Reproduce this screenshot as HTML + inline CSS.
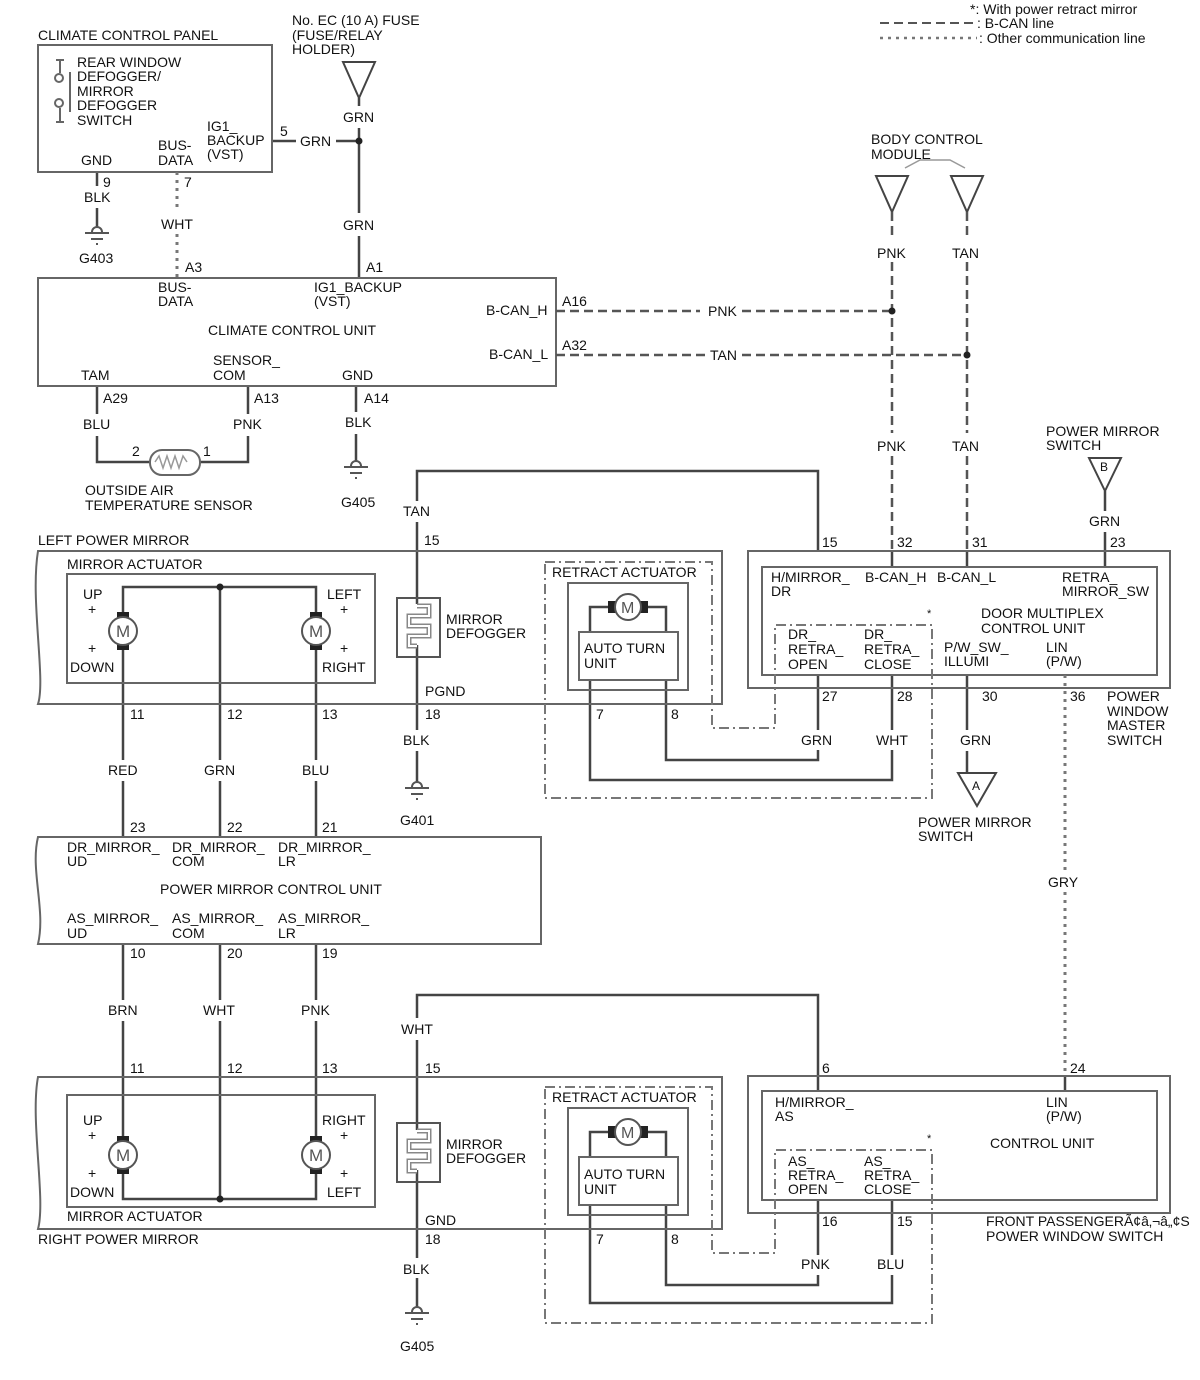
<!DOCTYPE html>
<html><head><meta charset="utf-8"><style>
html,body{margin:0;padding:0;background:#fff}
svg{display:block}
text{font-family:"Liberation Sans",Arial,sans-serif;font-size:14px;fill:#111}
</style></head><body>
<svg width="1200" height="1380" viewBox="0 0 1200 1380" xmlns="http://www.w3.org/2000/svg">
<defs>
<g id="motorV">
<rect x="-6" y="-19" width="12" height="8" fill="#222"/>
<rect x="-6" y="11" width="12" height="8" fill="#222"/>
<circle r="14" fill="#fff" stroke="#555" stroke-width="2"/>
<text x="-7" y="6" style="font-size:17px;fill:#555">M</text>
</g>
<g id="motorH">
<rect x="-20" y="-6" width="8" height="12" fill="#222"/>
<rect x="12" y="-6" width="8" height="12" fill="#222"/>
<circle r="13" fill="#fff" stroke="#555" stroke-width="2"/>
<text x="-7" y="6" style="font-size:16px;fill:#555">M</text>
</g>
<g id="gnd" stroke="#555" stroke-width="2" fill="none">
<path d="M-5,0 a5,5 0 0 1 10,0"/>
<line x1="-12" y1="1" x2="12" y2="1"/>
<line x1="-6" y1="7" x2="6" y2="7"/>
<line x1="-1" y1="12" x2="1" y2="12"/>
</g>
<g id="defog" fill="none" stroke="#555" stroke-width="2">
<rect x="-20" y="0" width="43" height="59"/>
<path d="M0,8 H12 V18 H-8 V28 H12 V38 H-8 V48 H0" stroke="#888" stroke-width="5"/>
<path d="M0,8 H12 V18 H-8 V28 H12 V38 H-8 V48 H0" stroke="#fff" stroke-width="2"/>
</g>
</defs>

<g fill="none" stroke="#444" stroke-width="2.5">
<polygon points="343,62 375,62 359,98" stroke-width="2"/>
<line x1="359" y1="98" x2="359" y2="106"/>
<line x1="359" y1="128" x2="359" y2="213"/>
<line x1="359" y1="236" x2="359" y2="278"/>
<line x1="272" y1="141" x2="296" y2="141"/>
<line x1="336" y1="141" x2="359" y2="141"/>
<line x1="97" y1="172" x2="97" y2="186"/>
<line x1="97" y1="208" x2="97" y2="228"/>
<line x1="97" y1="386" x2="97" y2="414"/>
<path d="M97,436 V462 H150"/>
<line x1="248" y1="386" x2="248" y2="414"/>
<path d="M248,436 V462 H200"/>
<line x1="356" y1="386" x2="356" y2="412"/>
<line x1="356" y1="434" x2="356" y2="462"/>
<path d="M417,501 V471 H818 V551"/>
<line x1="417" y1="522" x2="417" y2="604"/>
<line x1="417" y1="645" x2="417" y2="730"/>
<line x1="417" y1="751" x2="417" y2="783"/>
<path d="M123,615 V587 H316 V615"/>
<line x1="220" y1="587" x2="220" y2="760"/>
<line x1="123" y1="648" x2="123" y2="760"/>
<line x1="316" y1="648" x2="316" y2="760"/>
<line x1="123" y1="781" x2="123" y2="837"/>
<line x1="220" y1="781" x2="220" y2="837"/>
<line x1="316" y1="781" x2="316" y2="837"/>
<path d="M608,607 H590 V632"/>
<path d="M648,607 H666 V632"/>
<path d="M590,680 V780 H892 V750"/>
<path d="M666,680 V760 H818 V750"/>
<line x1="818" y1="675" x2="818" y2="730"/>
<line x1="892" y1="675" x2="892" y2="730"/>
<line x1="892" y1="551" x2="892" y2="567"/>
<line x1="967" y1="551" x2="967" y2="567"/>
<polygon points="1089,458 1121,458 1105,491" stroke-width="2"/>
<line x1="1105" y1="491" x2="1105" y2="511"/>
<line x1="1105" y1="532" x2="1105" y2="567"/>
<line x1="967" y1="675" x2="967" y2="730"/>
<line x1="967" y1="751" x2="967" y2="773"/>
<polygon points="958,773 996,773 977,806" stroke-width="2"/>
<line x1="123" y1="944" x2="123" y2="1000"/>
<line x1="220" y1="944" x2="220" y2="1000"/>
<line x1="316" y1="944" x2="316" y2="1000"/>
<line x1="123" y1="1021" x2="123" y2="1138"/>
<line x1="316" y1="1021" x2="316" y2="1138"/>
<line x1="220" y1="1021" x2="220" y2="1199"/>
<path d="M123,1172 V1199 H316 V1172"/>
<path d="M417,1018 V995 H818 V1091"/>
<line x1="417" y1="1040" x2="417" y2="1130"/>
<line x1="417" y1="1170" x2="417" y2="1258"/>
<line x1="417" y1="1278" x2="417" y2="1308"/>
<path d="M608,1132 H590 V1157"/>
<path d="M648,1132 H666 V1157"/>
<path d="M590,1205 V1303 H892 V1275"/>
<path d="M666,1205 V1285 H818 V1275"/>
<line x1="818" y1="1200" x2="818" y2="1255"/>
<line x1="892" y1="1200" x2="892" y2="1255"/>
<line x1="1065" y1="1076" x2="1065" y2="1091"/>
<polygon points="876,176 908,176 892,212" stroke-width="2"/>
<polygon points="951,176 983,176 967,212" stroke-width="2"/>
<path d="M905,168 l15,-8 h30 l15,8" stroke-width="1.5" stroke="#999"/>
</g>

<g fill="none" stroke="#666" stroke-width="2">
<rect x="38" y="45" width="234" height="127"/>
<rect x="38" y="278" width="518" height="108"/>
<rect x="67" y="574" width="308" height="109"/>
<rect x="568" y="583" width="120" height="107"/>
<rect x="579" y="632" width="99" height="48"/>
<rect x="748" y="551" width="422" height="137"/>
<rect x="762" y="567" width="395" height="108"/>
<rect x="67" y="1095" width="308" height="112"/>
<rect x="568" y="1108" width="120" height="107"/>
<rect x="579" y="1157" width="99" height="48"/>
<rect x="748" y="1076" width="422" height="137"/>
<rect x="762" y="1091" width="395" height="109"/>
<rect x="150" y="450" width="50" height="25" rx="12"/>
<path d="M155,462 l4,-6 4,12 4,-12 4,12 4,-12 4,12 4,-12 4,6" stroke="#999" stroke-width="1.5"/>
<path d="M38,551 H722 V704 H38 C46,680 30,600 38,551 Z"/>
<path d="M38,837 H541 V944 H38 C46,910 30,870 38,837 Z"/>
<path d="M38,1077 H722 V1229 H38 C46,1200 30,1120 38,1077 Z"/>
</g>
<g stroke="#666" stroke-width="2" fill="none">
<line x1="56" y1="60" x2="64" y2="60"/><line x1="60" y1="60" x2="60" y2="73"/>
<circle cx="59" cy="78" r="4"/><circle cx="59" cy="103" r="4"/>
<line x1="60" y1="108" x2="60" y2="122"/><line x1="56" y1="122" x2="64" y2="122"/>
<line x1="70" y1="72" x2="70" y2="112"/>
</g>
<use href="#gnd" x="97" y="232"/>
<use href="#gnd" x="356" y="466"/>
<use href="#gnd" x="417" y="787"/>
<use href="#gnd" x="417" y="1312"/>
<use href="#defog" x="417" y="598"/>
<use href="#defog" x="417" y="1123"/>
<use href="#motorV" x="123" y="631"/>
<use href="#motorV" x="316" y="631"/>
<use href="#motorV" x="123" y="1155"/>
<use href="#motorV" x="316" y="1155"/>
<use href="#motorH" x="628" y="607"/>
<use href="#motorH" x="628" y="1132"/>

<g fill="none" stroke="#555" stroke-width="2.5" stroke-dasharray="9,5">
<line x1="556" y1="311" x2="700" y2="311"/>
<line x1="742" y1="311" x2="892" y2="311"/>
<line x1="556" y1="355" x2="706" y2="355"/>
<line x1="742" y1="355" x2="967" y2="355"/>
<line x1="892" y1="212" x2="892" y2="240"/>
<line x1="892" y1="262" x2="892" y2="433"/>
<line x1="892" y1="456" x2="892" y2="551"/>
<line x1="967" y1="212" x2="967" y2="240"/>
<line x1="967" y1="262" x2="967" y2="433"/>
<line x1="967" y1="456" x2="967" y2="551"/>
<line x1="880" y1="23" x2="975" y2="23" stroke-width="2"/>
</g>
<g fill="none" stroke="#777" stroke-width="3" stroke-dasharray="3,5">
<line x1="177" y1="172" x2="177" y2="212"/>
<line x1="177" y1="234" x2="177" y2="278"/>
<line x1="1065" y1="675" x2="1065" y2="870"/>
<line x1="1065" y1="892" x2="1065" y2="1076"/>
<line x1="880" y1="38" x2="977" y2="38" stroke-width="2.5"/>
</g>
<g fill="none" stroke="#777" stroke-width="2" stroke-dasharray="10,4,2,4">
<path d="M545,562 H712 V728 H775 V625 H932 V798 H545 Z"/>
<path d="M545,1087 H712 V1253 H775 V1150 H932 V1323 H545 Z"/>
</g>
<g fill="#222">
<circle cx="359" cy="141" r="3.5"/>
<circle cx="892" cy="311" r="3.5"/>
<circle cx="967" cy="355" r="3.5"/>
<circle cx="220" cy="587" r="3.5"/>
<circle cx="220" cy="1199" r="3.5"/>
</g>

<text x="970" y="14">*: With power retract mirror</text>
<text x="977" y="28">: B-CAN line</text>
<text x="979" y="43">: Other communication line</text>

<text x="38" y="40">CLIMATE CONTROL PANEL</text>
<text x="292" y="25">No. EC (10 A) FUSE</text>
<text x="292" y="40">(FUSE/RELAY</text>
<text x="292" y="54">HOLDER)</text>
<text x="77" y="67">REAR WINDOW</text>
<text x="77" y="81">DEFOGGER/</text>
<text x="77" y="96">MIRROR</text>
<text x="77" y="110">DEFOGGER</text>
<text x="77" y="125">SWITCH</text>
<text x="207" y="131">IG1_</text>
<text x="207" y="145">BACKUP</text>
<text x="207" y="159">(VST)</text>
<text x="158" y="150">BUS-</text>
<text x="158" y="165">DATA</text>
<text x="81" y="165">GND</text>
<text x="280" y="136">5</text>
<text x="300" y="146">GRN</text>
<text x="343" y="122">GRN</text>
<text x="343" y="230">GRN</text>
<text x="103" y="187">9</text>
<text x="84" y="202">BLK</text>
<text x="184" y="187">7</text>
<text x="161" y="229">WHT</text>
<text x="79" y="263">G403</text>
<text x="185" y="272">A3</text>
<text x="366" y="272">A1</text>

<text x="158" y="292">BUS-</text>
<text x="158" y="306">DATA</text>
<text x="314" y="292">IG1_BACKUP</text>
<text x="314" y="306">(VST)</text>
<text x="208" y="335">CLIMATE CONTROL UNIT</text>
<text x="486" y="315">B-CAN_H</text>
<text x="489" y="359">B-CAN_L</text>
<text x="562" y="306">A16</text>
<text x="562" y="350">A32</text>
<text x="708" y="316">PNK</text>
<text x="710" y="360">TAN</text>
<text x="213" y="365">SENSOR_</text>
<text x="213" y="380">COM</text>
<text x="81" y="380">TAM</text>
<text x="342" y="380">GND</text>
<text x="103" y="403">A29</text>
<text x="254" y="403">A13</text>
<text x="364" y="403">A14</text>
<text x="83" y="429">BLU</text>
<text x="233" y="429">PNK</text>
<text x="345" y="427">BLK</text>
<text x="132" y="456">2</text>
<text x="203" y="456">1</text>
<text x="85" y="495">OUTSIDE AIR</text>
<text x="85" y="510">TEMPERATURE SENSOR</text>
<text x="341" y="507">G405</text>

<text x="871" y="144">BODY CONTROL</text>
<text x="871" y="159">MODULE</text>
<text x="877" y="258">PNK</text>
<text x="952" y="258">TAN</text>
<text x="877" y="451">PNK</text>
<text x="952" y="451">TAN</text>
<text x="1046" y="436">POWER MIRROR</text>
<text x="1046" y="450">SWITCH</text>
<text x="1100" y="471" style="font-size:12px">B</text>
<text x="1089" y="526">GRN</text>
<text x="403" y="516">TAN</text>
<text x="424" y="545">15</text>
<text x="822" y="547">15</text>
<text x="897" y="547">32</text>
<text x="972" y="547">31</text>
<text x="1110" y="547">23</text>

<text x="38" y="545">LEFT POWER MIRROR</text>
<text x="67" y="569">MIRROR ACTUATOR</text>
<text x="83" y="599">UP</text>
<text x="88" y="614">+</text>
<text x="88" y="653">+</text>
<text x="70" y="672">DOWN</text>
<text x="327" y="599">LEFT</text>
<text x="340" y="614">+</text>
<text x="340" y="653">+</text>
<text x="322" y="672">RIGHT</text>
<text x="446" y="624">MIRROR</text>
<text x="446" y="638">DEFOGGER</text>
<text x="425" y="696">PGND</text>
<text x="552" y="577">RETRACT ACTUATOR</text>
<text x="584" y="653">AUTO TURN</text>
<text x="584" y="668">UNIT</text>
<text x="130" y="719">11</text>
<text x="227" y="719">12</text>
<text x="322" y="719">13</text>
<text x="425" y="719">18</text>
<text x="596" y="719">7</text>
<text x="671" y="719">8</text>
<text x="403" y="745">BLK</text>
<text x="108" y="775">RED</text>
<text x="204" y="775">GRN</text>
<text x="302" y="775">BLU</text>
<text x="400" y="825">G401</text>

<text x="771" y="582">H/MIRROR_</text>
<text x="771" y="596">DR</text>
<text x="865" y="582">B-CAN_H</text>
<text x="937" y="582">B-CAN_L</text>
<text x="1062" y="582">RETRA_</text>
<text x="1062" y="596">MIRROR_SW</text>
<text x="981" y="618">DOOR MULTIPLEX</text>
<text x="981" y="633">CONTROL UNIT</text>
<text x="927" y="617" style="font-size:11px">*</text>
<text x="788" y="639">DR_</text>
<text x="788" y="654">RETRA_</text>
<text x="788" y="669">OPEN</text>
<text x="864" y="639">DR_</text>
<text x="864" y="654">RETRA_</text>
<text x="864" y="669">CLOSE</text>
<text x="944" y="652">P/W_SW_</text>
<text x="944" y="666">ILLUMI</text>
<text x="1046" y="652">LIN</text>
<text x="1046" y="666">(P/W)</text>
<text x="822" y="701">27</text>
<text x="897" y="701">28</text>
<text x="982" y="701">30</text>
<text x="1070" y="701">36</text>
<text x="1107" y="701">POWER</text>
<text x="1107" y="716">WINDOW</text>
<text x="1107" y="730">MASTER</text>
<text x="1107" y="745">SWITCH</text>
<text x="801" y="745">GRN</text>
<text x="876" y="745">WHT</text>
<text x="960" y="745">GRN</text>
<text x="972" y="790" style="font-size:12px">A</text>
<text x="918" y="827">POWER MIRROR</text>
<text x="918" y="841">SWITCH</text>
<text x="1048" y="887">GRY</text>

<text x="67" y="852">DR_MIRROR_</text>
<text x="67" y="866">UD</text>
<text x="172" y="852">DR_MIRROR_</text>
<text x="172" y="866">COM</text>
<text x="278" y="852">DR_MIRROR_</text>
<text x="278" y="866">LR</text>
<text x="160" y="894">POWER MIRROR CONTROL UNIT</text>
<text x="67" y="923">AS_MIRROR_</text>
<text x="67" y="938">UD</text>
<text x="172" y="923">AS_MIRROR_</text>
<text x="172" y="938">COM</text>
<text x="278" y="923">AS_MIRROR_</text>
<text x="278" y="938">LR</text>
<text x="130" y="832">23</text>
<text x="227" y="832">22</text>
<text x="322" y="832">21</text>
<text x="130" y="958">10</text>
<text x="227" y="958">20</text>
<text x="322" y="958">19</text>
<text x="108" y="1015">BRN</text>
<text x="203" y="1015">WHT</text>
<text x="301" y="1015">PNK</text>
<text x="401" y="1034">WHT</text>
<text x="130" y="1073">11</text>
<text x="227" y="1073">12</text>
<text x="322" y="1073">13</text>
<text x="425" y="1073">15</text>
<text x="822" y="1073">6</text>
<text x="1070" y="1073">24</text>

<text x="83" y="1125">UP</text>
<text x="88" y="1140">+</text>
<text x="88" y="1178">+</text>
<text x="70" y="1197">DOWN</text>
<text x="322" y="1125">RIGHT</text>
<text x="340" y="1140">+</text>
<text x="340" y="1178">+</text>
<text x="327" y="1197">LEFT</text>
<text x="67" y="1221">MIRROR ACTUATOR</text>
<text x="38" y="1244">RIGHT POWER MIRROR</text>
<text x="446" y="1149">MIRROR</text>
<text x="446" y="1163">DEFOGGER</text>
<text x="425" y="1225">GND</text>
<text x="552" y="1102">RETRACT ACTUATOR</text>
<text x="584" y="1179">AUTO TURN</text>
<text x="584" y="1194">UNIT</text>
<text x="425" y="1244">18</text>
<text x="596" y="1244">7</text>
<text x="671" y="1244">8</text>
<text x="403" y="1274">BLK</text>
<text x="400" y="1351">G405</text>

<text x="775" y="1107">H/MIRROR_</text>
<text x="775" y="1121">AS</text>
<text x="1046" y="1107">LIN</text>
<text x="1046" y="1121">(P/W)</text>
<text x="990" y="1148">CONTROL UNIT</text>
<text x="927" y="1142" style="font-size:11px">*</text>
<text x="788" y="1166">AS_</text>
<text x="788" y="1180">RETRA_</text>
<text x="788" y="1194">OPEN</text>
<text x="864" y="1166">AS_</text>
<text x="864" y="1180">RETRA_</text>
<text x="864" y="1194">CLOSE</text>
<text x="822" y="1226">16</text>
<text x="897" y="1226">15</text>
<text x="986" y="1226">FRONT PASSENGERÃ¢â‚¬â„¢S</text>
<text x="986" y="1241">POWER WINDOW SWITCH</text>
<text x="801" y="1269">PNK</text>
<text x="877" y="1269">BLU</text>
</svg>
</body></html>
